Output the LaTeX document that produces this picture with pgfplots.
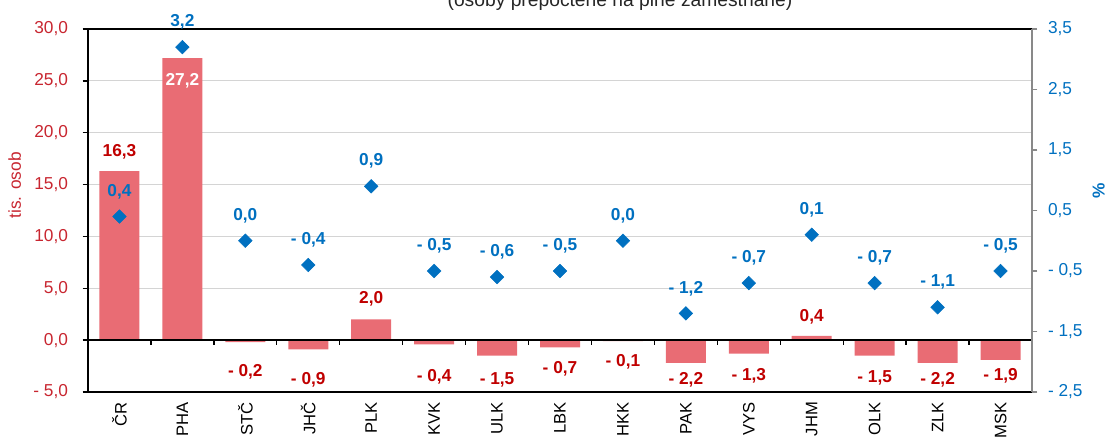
\documentclass[border=0pt]{standalone}
\usepackage{fontspec}
\setmainfont{Liberation Sans}
\usepackage{pgfplots}
\usepackage{pgfplotstable}
\pgfplotsset{compat=1.18}
\definecolor{barred}{RGB}{233,108,116}
\definecolor{lblred}{RGB}{192,0,0}
\definecolor{tickred}{RGB}{200,38,48}
\definecolor{myblue}{RGB}{0,112,192}
\definecolor{gridgray}{RGB}{212,212,212}
\definecolor{axgray}{RGB}{137,137,137}

\pgfplotstableread[col sep=semicolon]{
x;osob
0;16.3
1;27.2
2;-0.2
3;-0.9
4;2.0
5;-0.4
6;-1.5
7;-0.7
8;-0.1
9;-2.2
10;-1.3
11;0.4
12;-1.5
13;-2.2
14;-1.9
}\barsdata

\pgfplotstableread[col sep=semicolon]{
x;ly;lab
0;18.14;16,3
2;-3.07;- 0,2
3;-3.84;- 0,9
4;3.97;2,0
5;-3.55;- 0,4
6;-3.84;- 1,5
7;-2.78;- 0,7
8;-2.11;- 0,1
9;-3.84;- 2,2
10;-3.46;- 1,3
11;2.23;0,4
12;-3.65;- 1,5
13;-3.84;- 2,2
14;-3.46;- 1,9
}\barlabels

\pgfplotstableread[col sep=semicolon]{
x;ly;lab
1;24.99;27,2
}\phalabel

\pgfplotstableread[col sep=semicolon]{
x;pct;lab
0;0.4;0,4
1;3.2;3,2
2;0.0;0,0
3;-0.4;- 0,4
4;0.9;0,9
5;-0.5;- 0,5
6;-0.6;- 0,6
7;-0.5;- 0,5
8;0.0;0,0
9;-1.2;- 1,2
10;-0.7;- 0,7
11;0.1;0,1
12;-0.7;- 0,7
13;-1.1;- 1,1
14;-0.5;- 0,5
}\pctdata

\begin{document}
\begin{tikzpicture}
\useasboundingbox (0,0) rectangle (831bp,330bp);
\node[anchor=base, font=\fontsize{14.5}{17}\selectfont, text=black!85] at (465bp,324.75bp) {(osoby přepočtené na plně zaměstnané)};
\begin{axis}[
  at={(66bp,36bp)}, anchor=south west,
  scale only axis, width=708bp, height=272.25bp,
  xmin=-0.5, xmax=14.5, ymin=-5, ymax=30,
  clip=false,
  axis line style={draw=none},
  xtick={0,...,14},
  xticklabels={ČR,PHA,STČ,JHČ,PLK,KVK,ULK,LBK,HKK,PAK,VYS,JHM,OLK,ZLK,MSK},
  xtick style={draw=none},
  xticklabel style={rotate=90, anchor=east, font=\fontsize{12.5}{14}\selectfont, text=black},
  ytick={-5,0,5,10,15,20,25,30},
  yticklabels={{- 5,0},{0,0},{5,0},{10,0},{15,0},{20,0},{25,0},{30,0}},
  ytick pos=left,
  tick align=outside,
  major tick length=4bp,
  ytick style={black, line width=1bp},
  yticklabel style={font=\fontsize{13}{15}\selectfont, text=tickred, xshift=-7.5bp},
  ymajorgrids,
  grid style={gridgray, line width=0.9bp},
]
\addplot[ybar, bar width=30bp, fill=barred, draw=none] table[x=x, y=osob] {\barsdata};
\addplot[draw=none, mark=none, nodes near coords, point meta=explicit symbolic,
  nodes near coords style={anchor=center, text=lblred, font=\bfseries\fontsize{13}{15}\selectfont}]
  table[x=x, y=ly, meta=lab] {\barlabels};
\addplot[draw=none, mark=none, nodes near coords, point meta=explicit symbolic,
  nodes near coords style={anchor=center, text=white, font=\bfseries\fontsize{13}{15}\selectfont}]
  table[x=x, y=ly, meta=lab] {\phalabel};
\draw[black, line width=1.3bp] (rel axis cs:0,0) -- (rel axis cs:0,1) -- (rel axis cs:1,1);
\draw[black, line width=1.3bp] (rel axis cs:0,0) -- (rel axis cs:1,0);
\draw[black, line width=1.3bp] (axis cs:-0.5,0) -- (axis cs:14.5,0);
\pgfplotsinvokeforeach{0.5,1.5,2.5,3.5,4.5,5.5,6.5,7.5,8.5,9.5,10.5,11.5,12.5,13.5}{
  \draw[black, line width=1bp] (axis cs:#1,0) -- ([yshift=-4bp]axis cs:#1,0);
}
\end{axis}
\begin{axis}[
  at={(66bp,36bp)}, anchor=south west,
  scale only axis, width=708bp, height=272.25bp,
  xmin=-0.5, xmax=14.5, ymin=-2.5, ymax=3.5,
  clip=false,
  axis x line=none,
  axis y line*=right,
  y axis line style={draw=axgray, line width=1.3bp},
  ytick={-2.5,-1.5,-0.5,0.5,1.5,2.5,3.5},
  yticklabels={{- 2,5},{- 1,5},{- 0,5},{0,5},{1,5},{2,5},{3,5}},
  tick align=outside,
  major tick length=4bp,
  ytick style={axgray, line width=1bp},
  yticklabel style={font=\fontsize{13}{15}\selectfont, text=myblue, xshift=4.5bp},
]
\addplot[only marks, mark=square*, mark size=3.6bp,
  mark options={rotate=45, fill=myblue, draw=myblue},
  nodes near coords, point meta=explicit symbolic,
  nodes near coords style={anchor=center, yshift=18.75bp, text=myblue, font=\bfseries\fontsize{13}{15}\selectfont}]
  table[x=x, y=pct, meta=lab] {\pctdata};
\end{axis}
\node[rotate=90, text=tickred, font=\fontsize{13}{15}\selectfont] at (11bp,191bp) {tis. osob};
\node[rotate=90, text=myblue, font=\bfseries\fontsize{13}{15}\selectfont] at (824bp,187bp) {\%};
\end{tikzpicture}
\end{document}
